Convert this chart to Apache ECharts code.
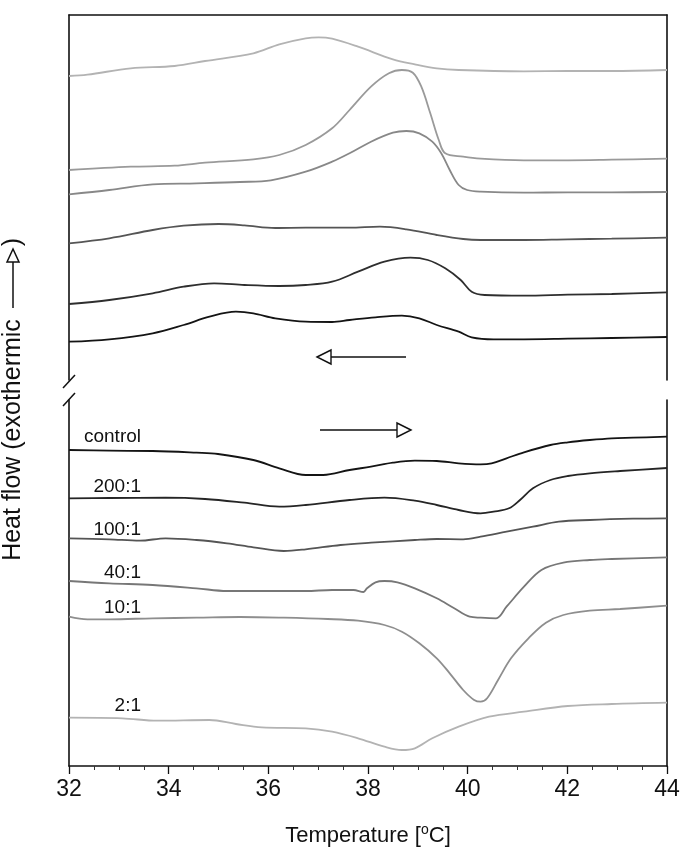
<!DOCTYPE html>
<html>
<head>
<meta charset="utf-8">
<script src="https://cdn.jsdelivr.net/npm/echarts@6/dist/echarts.min.js"></script>
<style>
    html, body { margin: 0; padding: 0; background: #fff; }
    #main { width: 685px; height: 849px; }
</style>
</head>
<body>
<div id="main"></div>
<script>
// cooling scans (top panel), heat flow in arbitrary units
var coolT_2 = [32, 32.37, 33.24, 34.12, 34.73, 35.70, 36.22, 36.75, 37.01, 37.28, 37.80, 38.50, 38.94, 39.38, 39.82, 41.13, 42.01, 42.89, 44];
var coolV_2 = [304, 305.3, 311.7, 314, 319, 326.7, 335.7, 341.7, 342.7, 341.3, 333.3, 320.7, 315.7, 311.7, 310, 308.7, 309, 309, 310];

var coolT_10 = [32, 33.24, 34.12, 34.73, 35.70, 36.22, 36.75, 37.28, 37.63, 38.06, 38.42, 38.68, 38.90, 39.07, 39.25, 39.42, 39.55, 39.91, 40.26, 41.13, 42.01, 42.89, 44];
var coolV_10 = [210, 213.3, 214.3, 217.3, 220.7, 225, 235, 251.7, 270, 293.3, 306.7, 310, 307.3, 293.3, 266.7, 240, 226.7, 223.3, 221.3, 219.7, 219.7, 220.3, 221.3];

var coolT_40 = [32, 32.81, 33.68, 34.56, 35.43, 36.05, 36.75, 37.28, 37.63, 38.06, 38.50, 38.77, 39.03, 39.29, 39.47, 39.64, 39.82, 39.99, 40.26, 41.13, 42.01, 42.89, 44];
var coolV_40 = [185.7, 190, 195.7, 196.7, 198, 199.7, 208.3, 218.3, 226.7, 238.3, 247.3, 249, 246.7, 238.3, 226.7, 210, 195, 190, 188.3, 187.3, 187.7, 187.7, 188];

var coolT_100 = [32, 32.81, 33.68, 34.30, 35.00, 35.52, 36.14, 36.75, 37.63, 38.24, 38.77, 39.38, 39.91, 40.26, 41.13, 42.01, 42.89, 44];
var coolV_100 = [136.7, 141.7, 150, 154.3, 156, 154.7, 152, 152.3, 152.3, 153.3, 150.7, 145, 141, 140, 140, 140.7, 141.3, 142.3];

var coolT_200 = [32, 32.81, 33.68, 34.30, 34.91, 35.52, 36.22, 36.75, 37.28, 37.80, 38.33, 38.85, 39.20, 39.55, 39.86, 40.08, 40.34, 41.13, 42.01, 42.89, 44];
var coolV_200 = [76, 80, 86.7, 93.3, 96.7, 95, 94, 95, 98.3, 108.3, 118.3, 122.3, 120, 111.7, 100, 88.3, 85, 84.3, 85.3, 86, 87.7];

var coolT_ctrl = [32, 32.81, 33.68, 34.30, 34.82, 35.35, 35.70, 36.14, 36.75, 37.28, 37.63, 38.15, 38.68, 39.03, 39.38, 39.82, 40.08, 40.52, 41.13, 42.01, 42.89, 44];
var coolV_ctrl = [38.3, 40.7, 46.7, 55, 63.3, 68.3, 66.7, 61.7, 58.3, 58, 60, 62.7, 64.3, 61.7, 55, 48.3, 42.7, 40.7, 40.7, 41.3, 42, 43];

// heating scans (bottom panel)
var heatT_ctrl = [32, 32.81, 33.68, 34.56, 34.99, 35.70, 36.22, 36.75, 37.10, 37.63, 38.06, 38.50, 38.94, 39.38, 39.82, 40.26, 40.48, 40.78, 41.13, 41.66, 42.01, 42.45, 42.89, 43.32, 44];
var heatV_ctrl = [316, 315.3, 315, 313.3, 312, 306, 297.7, 291, 291, 296, 299.3, 303.3, 305.3, 305, 302.7, 301.7, 302.7, 307.7, 313.7, 321, 323.7, 326, 327.7, 328.3, 329.3];

var heatT_200 = [32, 32.81, 33.94, 34.73, 35.52, 36.22, 36.75, 37.63, 38.33, 38.94, 39.38, 39.82, 40.26, 40.52, 40.83, 41.05, 41.31, 41.66, 42.01, 42.45, 43.06, 44];
var heatV_200 = [267.7, 268, 268.3, 267, 263.3, 259.3, 261, 266, 268.3, 265.3, 261, 256, 252.7, 254.3, 257.7, 266, 277.7, 286, 290, 292.7, 295, 298];

var heatT_100 = [32, 32.81, 33.42, 33.94, 34.56, 35.17, 35.70, 36.31, 36.75, 37.45, 38.06, 38.94, 39.38, 39.91, 40.26, 40.78, 41.31, 41.83, 42.45, 43.32, 44];
var heatV_100 = [227.7, 226.7, 225.3, 227.7, 226, 222.7, 218.7, 215, 216.7, 221, 223.3, 226, 227, 226.7, 229.3, 234.3, 239.3, 244.3, 246, 247.3, 247.7];

var heatT_40 = [32, 32.81, 33.68, 34.56, 35.17, 35.87, 36.75, 37.28, 37.71, 37.91, 37.98, 38.15, 38.33, 38.59, 38.94, 39.38, 39.73, 40.04, 40.26, 40.57, 40.78, 41.13, 41.48, 41.92, 42.45, 42.89, 44];
var heatV_40 = [185, 182.7, 181, 177.7, 175, 175, 175, 176, 176, 174, 177.7, 183.7, 185, 183.7, 177.7, 167.7, 157.7, 149.3, 148.3, 147.7, 159.3, 179.3, 196, 203.3, 206, 207, 208.7];

var heatT_10 = [32, 32.37, 32.81, 33.68, 34.56, 35.43, 36.31, 37.19, 37.80, 38.33, 38.68, 39.03, 39.38, 39.64, 39.91, 40.13, 40.26, 40.39, 40.61, 40.87, 41.22, 41.57, 41.92, 42.45, 43.06, 44];
var heatV_10 = [149.3, 146.7, 146.7, 147.7, 148.3, 149, 148.3, 147, 145.3, 141, 134.3, 122.7, 107.7, 92.7, 76, 66, 64.3, 67.7, 86, 107.7, 127.7, 143.3, 151, 155.3, 157, 160.3];

var heatT_2 = [32, 33.07, 33.77, 34.82, 35.35, 35.87, 36.75, 37.28, 37.80, 38.33, 38.68, 38.94, 39.29, 39.82, 40.43, 41.13, 42.01, 42.89, 44];
var heatV_2 = [48.3, 47.7, 45.3, 46, 42, 38.7, 37.7, 34.3, 27.7, 19.3, 16, 17.7, 27.7, 39.3, 49.3, 54.3, 60, 62, 63.3];

var ratioLabels = ['control', '200:1', '100:1', '40:1', '10:1', '2:1'];
var xTicks = [32, 34, 36, 38, 40, 42, 44];

function pairs(t, v) {
    var out = [];
    for (var i = 0; i < t.length; i++) {
        out.push([t[i], v[i]]);
    }
    return out;
}

var FONT = '"Liberation Sans", Arial, Helvetica, sans-serif';

function curve(name, t, v, color, panel) {
    return {
        name: name,
        type: 'line',
        xAxisIndex: panel,
        yAxisIndex: panel * 2,
        data: pairs(t, v),
        smooth: 0.35,
        showSymbol: false,
        symbol: 'none',
        lineStyle: { color: color, width: 1.8 },
        animation: false
    };
}

var dom = document.getElementById('main');
var myChart = echarts.init(dom);

var option = {
    animation: false,
    backgroundColor: '#fff',
    grid: [
        { left: 69, right: 18, top: 15, height: 365 },
        { left: 69, right: 18, top: 400, height: 366 }
    ],
    xAxis: [
        {
            gridIndex: 0, type: 'value', position: 'top', min: 32, max: 44,
            axisLine: { show: true, onZero: false, lineStyle: { color: '#111', width: 1.6 } },
            axisTick: { show: false }, axisLabel: { show: false }, splitLine: { show: false }
        },
        {
            gridIndex: 1, type: 'value', position: 'bottom', min: 32, max: 44, interval: 2,
            axisLine: { show: true, onZero: false, lineStyle: { color: '#111', width: 1.6 } },
            axisTick: { show: true, length: 8, lineStyle: { color: '#111', width: 1.3 } },
            minorTick: { show: true, splitNumber: 4, length: 4, lineStyle: { color: '#333', width: 1 } },
            axisLabel: {
                margin: 12, fontSize: 23, color: '#111', fontFamily: FONT,
                formatter: function (v) { return xTicks.indexOf(v) >= 0 ? String(v) : ''; }
            },
            splitLine: { show: false },
            name: 'Temperature [{sup|o}C]',
            nameLocation: 'middle',
            nameGap: 57,
            nameTextStyle: {
                fontSize: 22, color: '#111', fontFamily: FONT,
                rich: { sup: { fontSize: 14, color: '#111', fontFamily: FONT, padding: [0, 0, 12, 0] } }
            }
        }
    ],
    yAxis: [
        {
            gridIndex: 0, type: 'value', position: 'left', min: 0, max: 365,
            axisLine: { show: true, onZero: false, lineStyle: { color: '#111', width: 1.6 } },
            axisTick: { show: false }, axisLabel: { show: false }, splitLine: { show: false }
        },
        {
            gridIndex: 0, type: 'value', position: 'right', min: 0, max: 365,
            axisLine: { show: true, onZero: false, lineStyle: { color: '#111', width: 1.6 } },
            axisTick: { show: false }, axisLabel: { show: false }, splitLine: { show: false }
        },
        {
            gridIndex: 1, type: 'value', position: 'left', min: 0, max: 366,
            axisLine: { show: true, onZero: false, lineStyle: { color: '#111', width: 1.6 } },
            axisTick: { show: false }, axisLabel: { show: false }, splitLine: { show: false }
        },
        {
            gridIndex: 1, type: 'value', position: 'right', min: 0, max: 366,
            axisLine: { show: true, onZero: false, lineStyle: { color: '#111', width: 1.6 } },
            axisTick: { show: false }, axisLabel: { show: false }, splitLine: { show: false }
        }
    ],
    series: [
        curve('2:1 cooling', coolT_2, coolV_2, '#b3b3b3', 0),
        curve('10:1 cooling', coolT_10, coolV_10, '#9a9a9a', 0),
        curve('40:1 cooling', coolT_40, coolV_40, '#888888', 0),
        curve('100:1 cooling', coolT_100, coolV_100, '#555555', 0),
        curve('200:1 cooling', coolT_200, coolV_200, '#2e2e2e', 0),
        curve('control cooling', coolT_ctrl, coolV_ctrl, '#141414', 0),
        curve('control', heatT_ctrl, heatV_ctrl, '#141414', 1),
        curve('200:1', heatT_200, heatV_200, '#252525', 1),
        curve('100:1', heatT_100, heatV_100, '#555555', 1),
        curve('40:1', heatT_40, heatV_40, '#777777', 1),
        curve('10:1', heatT_10, heatV_10, '#8e8e8e', 1),
        curve('2:1', heatT_2, heatV_2, '#b3b3b3', 1)
    ],
    graphic: [
        // y axis title with arrow
        {
            type: 'text', x: 13, y: 440, rotation: Math.PI / 2,
            style: { text: 'Heat flow (exothermic', font: '25px ' + FONT, fill: '#111', align: 'center', verticalAlign: 'middle' }
        },
        { type: 'line', shape: { x1: 13, y1: 308, x2: 13, y2: 262 }, style: { stroke: '#111', lineWidth: 1.5 } },
        { type: 'polygon', shape: { points: [[13, 249], [7, 262], [19, 262]] }, style: { fill: '#fff', stroke: '#111', lineWidth: 1.5 } },
        {
            type: 'text', x: 13, y: 242, rotation: Math.PI / 2,
            style: { text: ')', font: '25px ' + FONT, fill: '#111', align: 'center', verticalAlign: 'middle' }
        },
        // axis break marks
        { type: 'line', shape: { x1: 63, y1: 388, x2: 75, y2: 375 }, style: { stroke: '#111', lineWidth: 1.5 } },
        { type: 'line', shape: { x1: 63, y1: 406, x2: 75, y2: 393 }, style: { stroke: '#111', lineWidth: 1.5 } },
        // scan direction arrows
        { type: 'line', shape: { x1: 406, y1: 357, x2: 331, y2: 357 }, style: { stroke: '#111', lineWidth: 1.5 } },
        { type: 'polygon', shape: { points: [[317, 357], [331, 350], [331, 364]] }, style: { fill: '#fff', stroke: '#111', lineWidth: 1.4 } },
        { type: 'line', shape: { x1: 320, y1: 430, x2: 397, y2: 430 }, style: { stroke: '#111', lineWidth: 1.5 } },
        { type: 'polygon', shape: { points: [[411, 430], [397, 423], [397, 437]] }, style: { fill: '#fff', stroke: '#111', lineWidth: 1.4 } },
        // curve labels
        { type: 'text', x: 141, y: 437, style: { text: ratioLabels[0], font: '19px ' + FONT, fill: '#111', align: 'right', verticalAlign: 'middle' } },
        { type: 'text', x: 141, y: 487, style: { text: ratioLabels[1], font: '19px ' + FONT, fill: '#111', align: 'right', verticalAlign: 'middle' } },
        { type: 'text', x: 141, y: 530, style: { text: ratioLabels[2], font: '19px ' + FONT, fill: '#111', align: 'right', verticalAlign: 'middle' } },
        { type: 'text', x: 141, y: 573, style: { text: ratioLabels[3], font: '19px ' + FONT, fill: '#111', align: 'right', verticalAlign: 'middle' } },
        { type: 'text', x: 141, y: 608, style: { text: ratioLabels[4], font: '19px ' + FONT, fill: '#111', align: 'right', verticalAlign: 'middle' } },
        { type: 'text', x: 141, y: 706, style: { text: ratioLabels[5], font: '19px ' + FONT, fill: '#111', align: 'right', verticalAlign: 'middle' } }
    ]
};

if (option && typeof option === "object") {
    myChart.setOption(option, true);
}
</script>
</body>
</html>
